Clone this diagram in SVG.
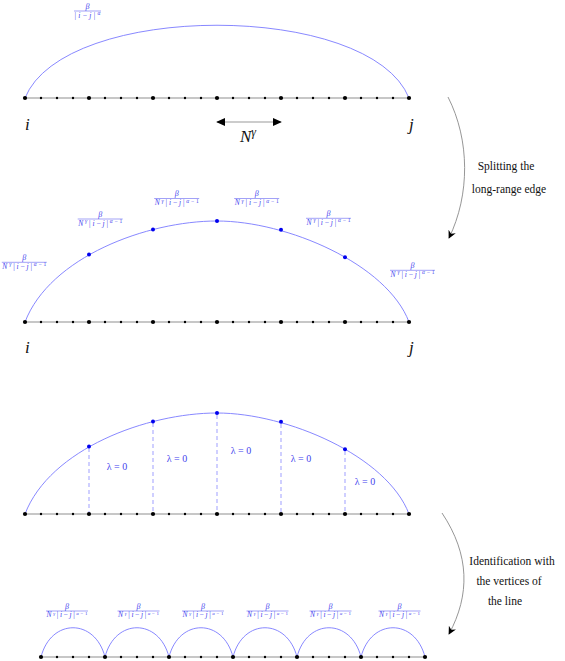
<svg xmlns="http://www.w3.org/2000/svg" xmlns:xlink="http://www.w3.org/1999/xlink" width="565" height="661" viewBox="0 0 565 661">
<style>
.base{stroke:#b4b4b4;stroke-width:1.3;fill:none}
.bd{fill:#000}
.arc{stroke:#7a7aff;stroke-width:0.9;fill:none}
.vd{fill:#0000ee}
.dash{stroke:#c4c4ff;stroke-width:1.6;stroke-dasharray:4 3;fill:none}
.lbl{fill:#4444ee;font-family:'Liberation Serif','DejaVu Serif',serif}
.num{font-size:8px;font-style:italic}
.den{font-size:7.5px}
.it{font-style:italic}
.bar{stroke:#4444ee;stroke-width:0.5}
.lam{fill:#4444ee;font-family:'Liberation Serif','DejaVu Serif',serif;font-size:10px}
.ij{font-family:'Liberation Serif','DejaVu Serif',serif;font-style:italic;font-size:17px;fill:#111}
.cap{font-family:'Liberation Serif','DejaVu Serif',serif;font-size:11.5px;fill:#111;text-anchor:middle}
.conn{stroke:#8a8a8a;stroke-width:0.9;fill:none}
</style>
<defs>
<marker id="ah" viewBox="0 0 10 10" refX="9" refY="5" markerWidth="8" markerHeight="8" markerUnits="userSpaceOnUse" orient="auto">
<path d="M0,0 L10,5 L0,10 L3,5 Z" fill="#000"/>
</marker>
<marker id="ah2" viewBox="0 0 10 10" refX="9" refY="5" markerWidth="9" markerHeight="9" markerUnits="userSpaceOnUse" orient="auto-start-reverse">
<path d="M0,0.5 L10,5 L0,9.5 Z" fill="#000"/>
</marker>
<g id="row">
<line class="base" x1="0" y1="0" x2="384" y2="0"/>
<g class="bd">
<circle cx="16" cy="0" r="1.2"/><circle cx="32" cy="0" r="1.2"/><circle cx="48" cy="0" r="1.2"/>
<circle cx="80" cy="0" r="1.2"/><circle cx="96" cy="0" r="1.2"/><circle cx="112" cy="0" r="1.2"/>
<circle cx="144" cy="0" r="1.2"/><circle cx="160" cy="0" r="1.2"/><circle cx="176" cy="0" r="1.2"/>
<circle cx="208" cy="0" r="1.2"/><circle cx="224" cy="0" r="1.2"/><circle cx="240" cy="0" r="1.2"/>
<circle cx="272" cy="0" r="1.2"/><circle cx="288" cy="0" r="1.2"/><circle cx="304" cy="0" r="1.2"/>
<circle cx="336" cy="0" r="1.2"/><circle cx="352" cy="0" r="1.2"/><circle cx="368" cy="0" r="1.2"/>
<circle cx="0" cy="0" r="2.1"/><circle cx="64" cy="0" r="2.1"/><circle cx="128" cy="0" r="2.1"/>
<circle cx="192" cy="0" r="2.1"/><circle cx="256" cy="0" r="2.1"/><circle cx="320" cy="0" r="2.1"/>
<circle cx="384" cy="0" r="2.1"/>
</g>
</g>
<path id="bigarc" d="M25,514 C50,449 147,413 217,413 C287,413 387,456 409,514"/>
<g id="vdots" class="vd">
<circle cx="89" cy="446.5" r="2"/><circle cx="153" cy="421.5" r="2"/><circle cx="217" cy="413" r="2"/>
<circle cx="281" cy="421.8" r="2"/><circle cx="345" cy="449.3" r="2"/>
</g>
<g id="frac">
<text class="num" x="0" y="-2.3" text-anchor="middle">β</text>
<line class="bar" x1="-22.5" y1="0" x2="22.5" y2="0"/>
<text class="den" x="0" y="6.6" text-anchor="middle" textLength="44" lengthAdjust="spacing"><tspan class="it">N</tspan><tspan font-size="5.5" dy="-2.6" class="it">γ</tspan><tspan dy="2.6">|</tspan><tspan class="it">i</tspan>−<tspan class="it">j</tspan>|<tspan font-size="5.5" dy="-2.6"><tspan class="it">α</tspan>−1</tspan></text>
</g>
<g id="fracs">
<text class="num" x="0" y="-2.1" text-anchor="middle">β</text>
<line class="bar" x1="-21" y1="0" x2="21" y2="0"/>
<text class="den" x="0" y="6.3" font-size="7" text-anchor="middle" textLength="41" lengthAdjust="spacing"><tspan class="it">N</tspan><tspan font-size="5" dy="-2.5" class="it">γ</tspan><tspan dy="2.5">|</tspan><tspan class="it">i</tspan>−<tspan class="it">j</tspan>|<tspan font-size="5" dy="-2.5"><tspan class="it">α</tspan>−1</tspan></text>
</g>
</defs>

<g id="panel1">
<path class="arc" d="M25,98 C64,1 370,1 409,98"/>
<use href="#row" x="25" y="98"/>
<g class="lbl" transform="translate(87.5,11)">
<text class="num" x="0" y="-2.2" text-anchor="middle">β</text>
<line class="bar" x1="-13.5" y1="0" x2="13.5" y2="0"/>
<text class="den" x="0" y="7.2" text-anchor="middle" textLength="26" lengthAdjust="spacing">|<tspan class="it">i</tspan>−<tspan class="it">j</tspan>|<tspan font-size="5.5" dy="-2.8" class="it">α</tspan></text>
</g>
<text class="ij" x="25" y="130">i</text>
<text class="ij" x="409" y="130">j</text>
<line x1="217" y1="122" x2="281" y2="122" stroke="#9a9a9a" stroke-width="1.2" marker-start="url(#ah2)" marker-end="url(#ah2)"/>
<text class="ij" x="248" y="142" text-anchor="middle">N<tspan font-size="12" dy="-6.5">γ</tspan></text>
</g>

<g id="panel2">
<use href="#bigarc" class="arc" y="-192"/>
<use href="#row" x="25" y="322"/>
<use href="#vdots" y="-192"/>
<g class="lbl">
<use href="#frac" x="24.3" y="262.3"/>
<use href="#frac" x="100.2" y="219"/>
<use href="#frac" x="176.7" y="198.5"/>
<use href="#frac" x="256.7" y="198.5"/>
<use href="#frac" x="328.5" y="218.3"/>
<use href="#frac" x="412.5" y="270.3"/>
</g>
<text class="ij" x="25" y="353">i</text>
<text class="ij" x="409" y="353">j</text>
</g>

<g id="panel3">
<g class="dash">
<line x1="89" y1="448" x2="89" y2="513"/>
<line x1="153" y1="423" x2="153" y2="513"/>
<line x1="217" y1="415" x2="217" y2="513"/>
<line x1="281" y1="424" x2="281" y2="513"/>
<line x1="345" y1="451" x2="345" y2="513"/>
</g>
<use href="#bigarc" class="arc"/>
<use href="#row" x="25" y="514"/>
<use href="#vdots"/>
<g class="lam" text-anchor="middle">
<text x="117" y="470">λ = 0</text>
<text x="177" y="462">λ = 0</text>
<text x="241" y="454">λ = 0</text>
<text x="301" y="462">λ = 0</text>
<text x="365" y="485">λ = 0</text>
</g>
</g>

<g id="panel4">
<g class="arc">
<path d="M41,657 C51,618 95,618 105,657"/>
<path d="M105,657 C115,618 159,618 169,657"/>
<path d="M169,657 C179,618 223,618 233,657"/>
<path d="M233,657 C243,618 287,618 297,657"/>
<path d="M297,657 C307,618 351,618 361,657"/>
<path d="M361,657 C371,618 415,618 425,657"/>
</g>
<use href="#row" x="41" y="657"/>
<g class="lbl">
<use href="#fracs" x="67" y="611"/>
<use href="#fracs" x="138.5" y="611"/>
<use href="#fracs" x="203" y="611"/>
<use href="#fracs" x="267.5" y="611"/>
<use href="#fracs" x="330.5" y="611"/>
<use href="#fracs" x="399.5" y="611"/>
</g>
</g>

<g id="connectors">
<path class="conn" d="M448,97 C470,140 470,195 449,238" marker-end="url(#ah)"/>
<path class="conn" d="M442,513 C470,555 470,595 449,634" marker-end="url(#ah)"/>
</g>
<g id="captions">
<text class="cap" x="506" y="170">Splitting the</text>
<text class="cap" x="509" y="193">long-range edge</text>
<text class="cap" x="512" y="565">Identification with</text>
<text class="cap" x="509" y="585">the vertices of</text>
<text class="cap" x="505" y="605">the line</text>
</g>
</svg>
